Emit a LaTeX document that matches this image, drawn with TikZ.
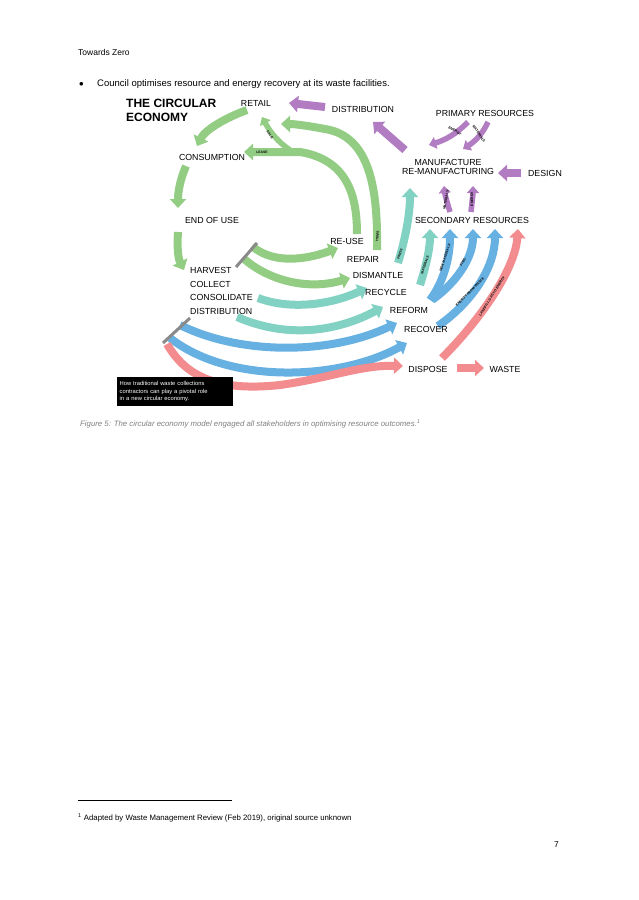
\documentclass[tikz,border=0pt]{standalone}
\usepackage{fontspec}
\setmainfont{Liberation Sans}
\usetikzlibrary{arrows.meta}
\definecolor{cgreen}{HTML}{93CD84}
\definecolor{cteal}{HTML}{82D2C4}
\definecolor{cblue}{HTML}{66B0E2}
\definecolor{cred}{HTML}{F28C8E}
\definecolor{cpurp}{HTML}{B27CC2}
\definecolor{cgray}{HTML}{8A8A8A}
\tikzset{x=1pt,y=-1pt,
 lab/.style={font=\fontsize{8.8}{9}\selectfont,inner sep=0pt},
 tiny/.style={font=\fontsize{3.4}{4}\selectfont\bfseries,inner sep=0pt},
 fat/.style={line width=8pt,-{Triangle[length=9pt,width=16pt]}},
 thin/.style={line width=5.5pt,-{Triangle[length=7pt,width=12pt]}},
 body/.style={font=\fontsize{9.5}{11}\selectfont,inner sep=0pt,anchor=west}}
\begin{document}
\begin{tikzpicture}
\useasboundingbox (0,0) rectangle (638,900);
\fill[white] (0,0) rectangle (638,900);
\node[body,font=\fontsize{8.5}{10}\selectfont] (hdr) at (78,52) {Towards Zero};
\node[body] (bul) at (79,84) {$\bullet$};
\node[body] (btxt) at (97,84) {Council optimises resource and energy recovery at its waste facilities.};
% --- green
\draw[fat,cgreen] (247,110) .. controls (225,118) and (205,130) .. (197,146);
\draw[fat,cgreen] (186,166) .. controls (180,180) and (178,192) .. (178,208);
\draw[fat,cgreen] (178,232) .. controls (177,248) and (178,258) .. (184,270);
\draw[fat,cgreen] (377,250) .. controls (378,190) and (370,140) .. (330,130) .. controls (310,126) and (295,124) .. (281,124);
\draw[fat,cgreen] (357,234) .. controls (357,200) and (350,160) .. (300,152) -- (244,152);
\draw[thin,cgreen] (290,150) .. controls (275,140) and (268,128) .. (262,117);
\draw[fat,cgreen] (252,246) .. controls (270,262) and (300,262) .. (338,248);
\draw[fat,cgreen] (243,258) .. controls (270,282) and (310,290) .. (350,278);
% teal
\draw[fat,cteal] (258,298) .. controls (290,310) and (330,305) .. (367,288);
\draw[fat,cteal] (237,317) .. controls (290,340) and (340,330) .. (383,307);
\draw[fat,cteal] (398,263) .. controls (405,240) and (410,215) .. (410,188);
\draw[fat,cteal] (420,285) .. controls (428,260) and (430,245) .. (430,229);
% blue
\draw[fat,cblue] (180,325) .. controls (240,355) and (330,355) .. (397,323);
\draw[fat,cblue] (170,338) .. controls (230,385) and (340,380) .. (407,343);
\draw[fat,cblue] (430,300) .. controls (445,280) and (450,255) .. (450,229);
\draw[fat,cblue] (432,300) .. controls (460,280) and (473,255) .. (473,229);
\draw[fat,cblue] (438,326) .. controls (475,300) and (495,265) .. (495,229);
% red
\draw[fat,cred] (167,344) .. controls (185,375) and (215,392) .. (280,385) .. controls (330,378) and (360,365) .. (403,366);
\draw[fat,cred] (457,368) -- (484,368);
\draw[fat,cred] (442,358) .. controls (480,320) and (515,270) .. (518,229);
% gray bars
\draw[line width=3pt,cgray] (257,243) -- (236,267);
\draw[line width=3pt,cgray] (190,318) -- (163,343);
% purple
\draw[fat,cpurp] (325,107) -- (289,103);
\draw[fat,cpurp] (405,150) -- (373,122);
\draw[fat,cpurp] (521,173) -- (498,173);
\draw[thin,cpurp] (468,122) .. controls (455,135) and (445,140) .. (429,145);
\draw[thin,cpurp] (488,122) .. controls (482,135) and (474,142) .. (463,149);
\draw[thin,cpurp] (450,212) .. controls (447,202) and (445,195) .. (444,186);
\draw[thin,cpurp] (471,212) .. controls (472,202) and (473,195) .. (473,186);
% labels
\node[inner sep=0pt,anchor=west,align=left,font=\fontsize{12}{14}\selectfont\bfseries] (title) at (126,110) {THE CIRCULAR\\ECONOMY};
\node[lab] (retail) at (256,103) {RETAIL};
\node[lab] (distr) at (363,109) {DISTRIBUTION};
\node[lab] (prim) at (485,113) {PRIMARY RESOURCES};
\node[lab] (cons) at (212,157) {CONSUMPTION};
\node[lab,align=center] (manu) at (448,167) {MANUFACTURE\\RE-MANUFACTURING};
\node[lab] (design) at (545,173) {DESIGN};
\node[lab] (eou) at (212,220) {END OF USE};
\node[lab] (sec) at (472,220) {SECONDARY RESOURCES};
\node[lab] (reuse) at (347,241) {RE-USE};
\node[lab] (repair) at (363,259) {REPAIR};
\node[lab] (dism) at (378,275) {DISMANTLE};
\node[lab] (recyc) at (386,292) {RECYCLE};
\node[lab] (reform) at (409,310) {REFORM};
\node[lab] (recov) at (426,329) {RECOVER};
\node[lab] (disp) at (428,369) {DISPOSE};
\node[lab] (waste) at (505,369) {WASTE};
\node[lab,anchor=west,align=left,font=\fontsize{8.8}{13.6}\selectfont] (harv) at (190,291) {HARVEST\\COLLECT\\CONSOLIDATE\\DISTRIBUTION};
% tiny arrow labels
\node[tiny,rotate=-55] (t1) at (270,135) {SALE};
\node[tiny] (t2) at (262,152) {LEASE};
\node[tiny,rotate=85] (t3) at (377.5,236) {ITEMS};
\node[tiny,rotate=72] (t4) at (400,254) {PARTS};
\node[tiny,rotate=72] (t5) at (425,265) {MATERIALS};
\node[tiny,rotate=72] (t6) at (445,258) {NEW MATERIALS};
\node[tiny,rotate=58] (t7) at (463,262) {FUEL};
\node[tiny,rotate=45] (t8) at (470,292) {ENERGY-FROM-WASTE};
\node[tiny,rotate=58] (t9) at (492,296) {LANDFILL GAS TO ENERGY};
\node[tiny,rotate=-30] (t10) at (455,131) {ENERGY};
\node[tiny,rotate=-55] (t11) at (479,134) {MATERIALS};
\node[tiny,rotate=80] (t12) at (446,200) {MATERIALS};
\node[tiny,rotate=90] (t13) at (472,199) {ENERGY};
% black box
\node[fill=black,text=white,anchor=north west,align=left,inner sep=2.5pt,text width=111pt,minimum height=29pt,font=\fontsize{5.8}{7.5}\selectfont] (box) at (117,377) {How traditional waste collections\\contractors can play a pivotal role\\in a new circular economy.};
% caption and footer
\node[body,text=gray,font=\fontsize{7.8}{9}\selectfont\itshape] (cap) at (80,424) {Figure 5: The circular economy model engaged all stakeholders in optimising resource outcomes.\textsuperscript{1}};
\draw[line width=0.5pt] (78,800) -- (232,800);
\node[body,font=\fontsize{7.8}{9}\selectfont] (fn) at (78,818) {\textsuperscript{1} Adapted by Waste Management Review (Feb 2019), original source unknown};
\node[body,font=\fontsize{8.5}{10}\selectfont] (pg) at (554,845) {7};
\end{tikzpicture}
\end{document}
